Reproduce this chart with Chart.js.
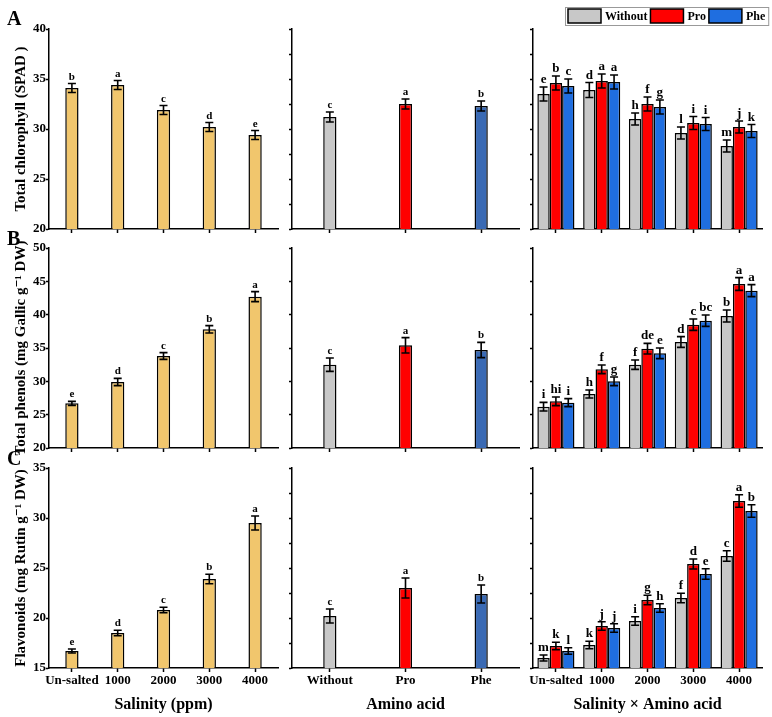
<!DOCTYPE html>
<html>
<head>
<meta charset="utf-8">
<script src="https://cdn.jsdelivr.net/npm/chart.js"></script>
<style>
body { margin: 0; background: #fff; }
#fig { position: relative; width: 772px; height: 717px; overflow: hidden; }
#fig canvas { position: absolute; }
.tag { position: absolute; left: 7px; font: bold 20px "Liberation Serif", serif; line-height: 20px; color: #000; }
</style>
</head>
<body>
<div id="fig">
	<canvas id="c11" width="290" height="240" style="left:0;top:0"></canvas>
	<canvas id="c12" width="248" height="240" style="left:282px;top:0"></canvas>
	<canvas id="c13" width="250" height="240" style="left:522px;top:0"></canvas>
	<canvas id="c21" width="290" height="226" style="left:0;top:234px"></canvas>
	<canvas id="c22" width="248" height="226" style="left:282px;top:234px"></canvas>
	<canvas id="c23" width="250" height="226" style="left:522px;top:234px"></canvas>
	<canvas id="c31" width="290" height="263" style="left:0;top:454px"></canvas>
	<canvas id="c32" width="248" height="263" style="left:282px;top:454px"></canvas>
	<canvas id="c33" width="250" height="263" style="left:522px;top:454px"></canvas>
	<div class="tag" style="top:8px">A</div>
	<div class="tag" style="top:228px">B</div>
	<div class="tag" style="top:448px">C</div>
</div>
<script>
var salinity = ['Un-salted', '1000', '2000', '3000', '4000'];
var aminoAcids = ['Without', 'Pro', 'Phe'];

// Total chlorophyll (SPAD)
var chlSalt = [34.1, 34.4, 31.9, 30.2, 29.4];
var chlSaltErr = [0.45, 0.45, 0.45, 0.45, 0.45];
var chlSaltLet = ['b', 'a', 'c', 'd', 'e'];
var chlAmino = [31.2, 32.5, 32.3];
var chlAminoErr = [0.5, 0.5, 0.5];
var chlAminoLet = ['c', 'a', 'b'];
var chlWithout = [33.5, 33.9, 31.0, 29.6, 28.3];
var chlWithoutErr = [0.7, 0.75, 0.6, 0.6, 0.6];
var chlWithoutLet = ['e', 'd', 'h', 'l', 'm'];
var chlPro = [34.6, 34.8, 32.5, 30.6, 30.2];
var chlProErr = [0.7, 0.7, 0.7, 0.65, 0.6];
var chlProLet = ['b', 'a', 'f', 'i', 'j'];
var chlPhe = [34.3, 34.7, 32.2, 30.5, 29.8];
var chlPheErr = [0.7, 0.7, 0.7, 0.65, 0.65];
var chlPheLet = ['c', 'a', 'g', 'i', 'k'];

// Total phenols (mg Gallic g-1 DW)
var phSalt = [26.7, 29.9, 33.8, 37.8, 42.7];
var phSaltErr = [0.3, 0.55, 0.5, 0.55, 0.75];
var phSaltLet = ['e', 'd', 'c', 'b', 'a'];
var phAmino = [32.5, 35.4, 34.7];
var phAminoErr = [1.0, 1.15, 1.15];
var phAminoLet = ['c', 'a', 'b'];
var phWithout = [26.2, 28.1, 32.5, 35.9, 39.8];
var phWithoutErr = [0.65, 0.6, 0.7, 0.8, 0.9];
var phWithoutLet = ['i', 'h', 'f', 'd', 'b'];
var phPro = [27.0, 31.8, 34.9, 38.5, 44.6];
var phProErr = [0.65, 0.65, 0.8, 0.85, 0.95];
var phProLet = ['hi', 'f', 'de', 'c', 'a'];
var phPhe = [26.8, 30.0, 34.2, 39.1, 43.6];
var phPheErr = [0.6, 0.65, 0.8, 0.85, 0.9];
var phPheLet = ['i', 'g', 'e', 'bc', 'a'];

// Flavonoids (mg Rutin g-1 DW)
var flSalt = [16.7, 18.5, 20.8, 23.9, 29.5];
var flSaltErr = [0.2, 0.27, 0.27, 0.47, 0.7];
var flSaltLet = ['e', 'd', 'c', 'b', 'a'];
var flAmino = [20.2, 23.0, 22.4];
var flAminoErr = [0.7, 1.0, 0.9];
var flAminoLet = ['c', 'a', 'b'];
var flWithout = [16.0, 17.3, 19.7, 22.0, 26.2];
var flWithoutErr = [0.3, 0.37, 0.43, 0.47, 0.53];
var flWithoutLet = ['m', 'k', 'i', 'f', 'c'];
var flPro = [17.2, 19.2, 21.8, 25.4, 31.7];
var flProErr = [0.37, 0.43, 0.47, 0.5, 0.63];
var flProLet = ['k', 'j', 'g', 'd', 'a'];
var flPhe = [16.7, 19.0, 21.0, 24.4, 30.7];
var flPheErr = [0.33, 0.43, 0.43, 0.53, 0.63];
var flPheLet = ['l', 'j', 'h', 'e', 'b'];

var serif = '"Liberation Serif", "DejaVu Serif", serif';
var gold = '#F1C66D', grey = '#C8C8C8', red = '#FF0000', blue = '#1F6EE0', blueDark = '#3A6AB4';

// error bars + letters over each bar
var errorBars = {
	id: 'errorBars',
	afterDatasetsDraw: function(chart, args, opts) {
		var ctx = chart.ctx, y = chart.scales.y;
		chart.data.datasets.forEach(function(ds, di) {
			var meta = chart.getDatasetMeta(di);
			meta.data.forEach(function(bar, i) {
				var top = y.getPixelForValue(ds.data[i] + ds.errors[i]);
				var bot = y.getPixelForValue(ds.data[i] - ds.errors[i]);
				ctx.save();
				ctx.strokeStyle = '#000';
				ctx.lineWidth = 1.6;
				ctx.beginPath();
				ctx.moveTo(bar.x, top); ctx.lineTo(bar.x, bot);
				ctx.moveTo(bar.x - 4, top); ctx.lineTo(bar.x + 4, top);
				ctx.moveTo(bar.x - 4, bot); ctx.lineTo(bar.x + 4, bot);
				ctx.stroke();
				ctx.fillStyle = '#000';
				ctx.font = 'bold ' + (opts.size || 11) + 'px ' + serif;
				ctx.textAlign = 'center';
				ctx.textBaseline = 'alphabetic';
				ctx.fillText(ds.letters[i], bar.x, top - 4);
				ctx.restore();
			});
		});
	}
};

// boxed legend above the interaction panel
var boxLegend = {
	id: 'boxLegend',
	afterDraw: function(chart) {
		var ctx = chart.ctx;
		ctx.save();
		ctx.font = 'bold 12px ' + serif;
		ctx.textBaseline = 'middle';
		var x = 46;
		chart.data.datasets.forEach(function(ds) {
			ctx.fillStyle = ds.backgroundColor;
			ctx.fillRect(x, 9, 33, 14);
			ctx.strokeStyle = '#000';
			ctx.lineWidth = 1.5;
			ctx.strokeRect(x, 9, 33, 14);
			x += 37;
			ctx.fillStyle = '#000';
			ctx.fillText(ds.label, x, 16.5);
			x += ctx.measureText(ds.label).width + 3;
		});
		ctx.strokeStyle = '#999';
		ctx.lineWidth = 1;
		ctx.strokeRect(43.5, 7.5, x - 43, 18);
		ctx.restore();
	}
};

function panel(id, labels, datasets, o) {
	return new Chart(document.getElementById(id), {
		type: 'bar',
		data: { labels: labels, datasets: datasets },
		plugins: [errorBars].concat(o.extra || []),
		options: {
			responsive: false,
			animation: false,
			layout: { padding: o.pad },
			datasets: {
				bar: {
					categoryPercentage: o.cat,
					barPercentage: o.bar,
					borderColor: '#000',
					borderWidth: 1.5,
					borderSkipped: false
				}
			},
			plugins: {
				legend: { display: false },
				tooltip: { enabled: false },
				errorBars: { size: o.letterSize }
			},
			scales: {
				x: {
					grid: { offset: false, drawOnChartArea: false, drawTicks: true, tickLength: 4, tickColor: '#000', tickWidth: 1.5 },
					border: { color: '#000', width: 1.5 },
					ticks: {
						color: '#000', font: { family: serif, size: 13, weight: 'bold' },
						padding: 1, maxRotation: 0, minRotation: 0, autoSkip: false,
						callback: function(v) { return o.xLabels ? this.getLabelForValue(v) : ''; }
					},
					title: {
						display: !!o.xTitle, text: o.xTitle, color: '#000',
						font: { family: serif, size: 16, weight: 'bold' },
						padding: { top: 0, bottom: 3 }
					},
					afterFit: function(s) { s.height = o.xH; }
				},
				y: {
					min: o.min, max: o.max,
					grid: { drawOnChartArea: false, drawTicks: true, tickLength: 3, tickColor: '#000', tickWidth: 1.5 },
					border: { color: '#000', width: 1.5 },
					ticks: {
						stepSize: o.step, color: '#000', padding: 0,
						font: { family: serif, size: 13, weight: 'bold' },
						callback: function(v) { return o.yLabels ? v : ''; }
					},
					title: {
						display: !!o.yTitle, text: o.yTitle, color: '#000',
						font: { family: serif, size: 15, weight: 'bold' },
						padding: { top: 12, bottom: 0 }
					},
					afterFit: function(s) { s.width = o.yW; }
				}
			}
		}
	});
}

function single(data, err, letters, colors) {
	return [{ data: data, errors: err, letters: letters, backgroundColor: colors }];
}
function triple(w, we, wl, p, pe, pl, h, he, hl) {
	return [
		{ label: 'Without', data: w, errors: we, letters: wl, backgroundColor: grey },
		{ label: 'Pro', data: p, errors: pe, letters: pl, backgroundColor: red },
		{ label: 'Phe', data: h, errors: he, letters: hl, backgroundColor: blue }
	];
}

var rows = [
	{ top: 29, xH: 11, min: 20, max: 40, title: 'Total chlorophyll (SPAD )' },
	{ top: 14, xH: 12, min: 20, max: 50, title: 'Total phenols (mg Gallic g\u207B\u00B9 DW)' },
	{ top: 14, xH: 49, min: 15, max: 35, title: 'Flavonoids (mg Rutin g\u207B\u00B9 DW)' }
];
var aminoColors = [grey, red, blueDark];

var sets = [
	[single(chlSalt, chlSaltErr, chlSaltLet, gold), single(chlAmino, chlAminoErr, chlAminoLet, aminoColors),
	 triple(chlWithout, chlWithoutErr, chlWithoutLet, chlPro, chlProErr, chlProLet, chlPhe, chlPheErr, chlPheLet)],
	[single(phSalt, phSaltErr, phSaltLet, gold), single(phAmino, phAminoErr, phAminoLet, aminoColors),
	 triple(phWithout, phWithoutErr, phWithoutLet, phPro, phProErr, phProLet, phPhe, phPheErr, phPheLet)],
	[single(flSalt, flSaltErr, flSaltLet, gold), single(flAmino, flAminoErr, flAminoLet, aminoColors),
	 triple(flWithout, flWithoutErr, flWithoutLet, flPro, flProErr, flProLet, flPhe, flPheErr, flPheLet)]
];

rows.forEach(function(r, ri) {
	var last = ri === 2;
	panel('c' + (ri + 1) + '1', salinity, sets[ri][0], {
		pad: { top: r.top, right: 12, bottom: 0, left: 0 }, xH: r.xH, yW: 49,
		min: r.min, max: r.max, step: 5, yLabels: true, yTitle: r.title,
		xLabels: last, xTitle: last ? 'Salinity (ppm)' : '',
		cat: 1, bar: 0.29, letterSize: 11
	});
	panel('c' + (ri + 1) + '2', aminoAcids, sets[ri][1], {
		pad: { top: r.top, right: 11, bottom: 0, left: 0 }, xH: r.xH, yW: 10,
		min: r.min, max: r.max, step: 2.5, yLabels: false,
		xLabels: last, xTitle: last ? 'Amino acid' : '',
		cat: 1, bar: 0.175, letterSize: 11
	});
	panel('c' + (ri + 1) + '3', salinity, sets[ri][2], {
		pad: { top: r.top, right: 10, bottom: 0, left: 0 }, xH: r.xH, yW: 11,
		min: r.min, max: r.max, step: 2.5, yLabels: false,
		xLabels: last, xTitle: last ? 'Salinity \u00D7 Amino acid' : '',
		cat: 0.81, bar: 1, letterSize: 13,
		extra: ri === 0 ? [boxLegend] : []
	});
});
</script>
</body>
</html>
